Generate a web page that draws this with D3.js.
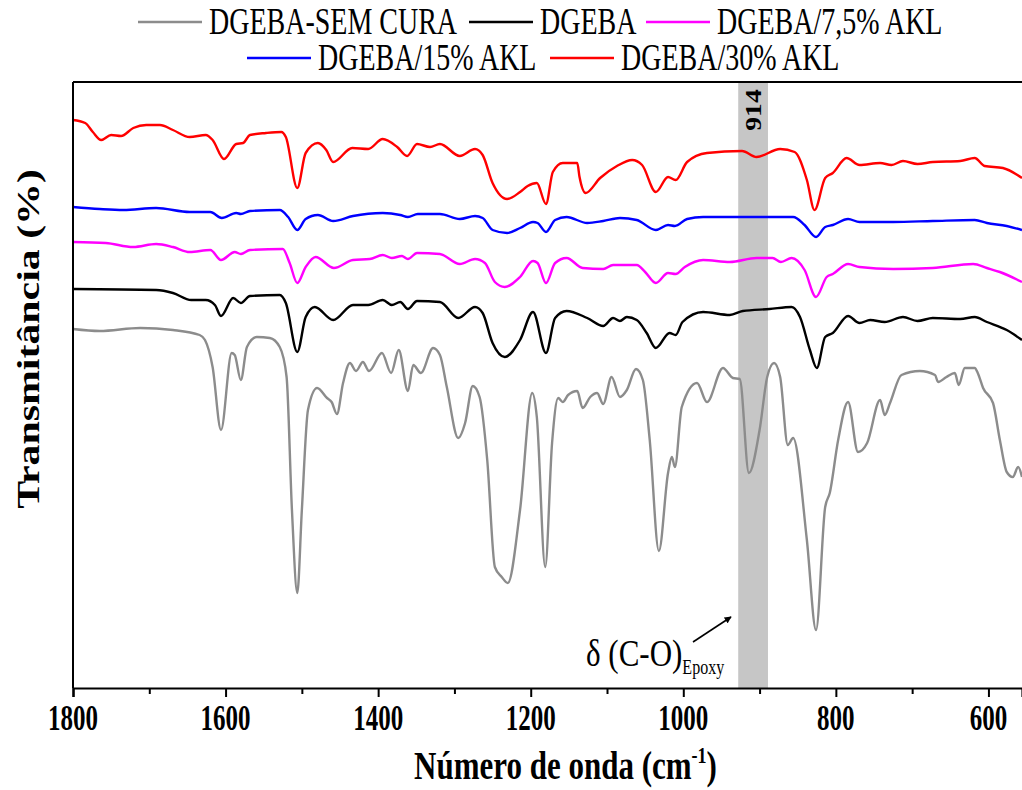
<!DOCTYPE html>
<html>
<head>
<meta charset="utf-8">
<script src="https://cdn.jsdelivr.net/npm/d3@7"></script>
<style>
  html, body { margin: 0; padding: 0; background: #fff; }
  svg { display: block; }
  text { font-family: "Liberation Serif", "Times New Roman", serif; fill: #000; }
</style>
</head>
<body>
<svg id="chart" width="1022" height="790"></svg>
<script>
// FTIR spectra (wavenumber in cm-1, relative transmittance, curves stacked with offsets)
const seriesNames = ["DGEBA-SEM CURA", "DGEBA", "DGEBA/7,5% AKL", "DGEBA/15% AKL", "DGEBA/30% AKL"];
const seriesColors = ["#8c8c8c", "#000000", "#ff00ff", "#0000ff", "#ff0000"];

const semCuraWn = [1800,1765,1712,1669,1634,1627,1617,1606,1592,1588,1580,1572,1559,1542,1529,1520,1513,1506,1500,1492,1480,1467,1461,1454,1446,1437,1429,1420,1412,1395,1383,1373,1361,1354,1344,1328,1319,1310,1295,1286,1276,1267,1257,1247,1238,1230,1214,1198,1192,1181,1172,1164,1158,1151,1139,1132,1122,1113,1105,1094,1083,1074,1062,1053,1044,1032,1020,1015,1011,1002,982,969,948,935,926,914,900,890,881,873,863,856,838,826,814,808,797,784,771,759,742,736,729,714,690,670,666,655,644,639,631,618,614,607,594,585,576,568,561,556];
const semCuraT = [35.9,35.7,36.0,35.8,35.3,34.8,32.1,25.8,33.5,33.3,30.8,34.1,35.1,35.0,34.1,31.1,17.8,9.5,17.8,27.8,30.0,29.0,28.6,27.4,30.5,32.5,31.7,32.6,31.7,33.5,31.5,33.8,29.7,32.3,31.5,34.0,33.3,30.1,25.0,26.5,30.2,29.1,22.8,12.1,11.1,10.5,17.8,29.5,27.1,12.1,24.5,29.0,28.6,29.3,29.7,28.0,29.1,29.5,28.4,31.1,29.1,29.8,31.9,30.8,24.8,13.7,21.5,23.1,22.1,28.1,30.5,28.6,32.0,31.0,30.9,21.5,25.8,31.1,32.5,31.1,24.3,25.0,14.8,5.8,18.1,19.5,24.8,28.6,23.6,24.5,28.8,27.3,28.5,31.3,31.7,31.3,30.6,31.1,31.5,30.3,32.0,32.0,31.5,30.0,28.5,24.8,21.6,21.1,22.1,21.1];

const dgebaWn = [1800,1691,1669,1645,1626,1614,1606,1590,1580,1568,1529,1521,1506,1495,1483,1459,1433,1413,1394,1382,1371,1361,1349,1319,1295,1273,1263,1250,1234,1214,1197,1180,1168,1153,1126,1105,1092,1083,1074,1061,1048,1036,1018,1010,1001,974,939,922,887,858,847,834,825,814,804,784,769,755,736,712,693,673,637,618,602,576,556];
const dgebaT = [39.9,39.8,39.5,38.8,38.8,38.3,37.2,39.0,38.5,39.2,39.3,38.5,33.6,37.1,38.1,36.8,38.3,38.3,38.8,38.3,38.6,37.9,38.7,38.6,37.0,38.1,37.5,34.5,33.1,34.8,37.6,33.5,37.0,37.7,37.0,36.2,37.0,36.7,37.1,36.8,35.5,34.0,35.5,35.3,36.6,37.6,37.3,37.7,37.9,38.1,37.1,33.8,32.0,35.1,35.5,37.2,36.5,36.8,36.6,37.1,36.7,37.0,36.9,37.1,36.6,35.8,34.8];

const akl75Wn = [1800,1757,1721,1691,1669,1647,1620,1606,1588,1580,1568,1525,1516,1506,1495,1482,1458,1433,1411,1394,1382,1369,1361,1349,1319,1293,1273,1260,1247,1234,1214,1197,1191,1180,1168,1153,1132,1105,1092,1061,1050,1036,1020,1010,998,974,939,904,883,872,858,841,826,812,804,784,769,725,673,620,602,585,556];
const akl75T = [44.6,44.5,44.1,44.4,44.1,43.6,43.8,42.8,43.6,43.4,43.8,43.9,42.5,40.5,42.1,43.1,42.0,42.8,42.9,43.3,43.0,43.2,42.9,43.5,43.4,42.4,42.9,42.5,40.6,40.1,41.1,42.7,42.5,40.5,42.5,43.0,42.0,41.9,42.3,42.3,41.6,40.5,41.5,41.4,42.1,42.8,42.6,43.0,43.0,42.6,43.0,41.8,39.1,41.1,41.4,42.4,42.1,41.9,42.0,42.4,42.0,41.6,40.6];

const akl15Wn = [1800,1765,1734,1691,1647,1620,1605,1586,1580,1568,1529,1518,1506,1495,1479,1459,1433,1394,1371,1361,1348,1319,1293,1273,1263,1250,1231,1214,1197,1191,1180,1168,1153,1126,1105,1083,1061,1036,1020,1011,995,974,930,887,856,841,826,814,804,784,769,725,673,618,602,576,556];
const akl15T = [48.1,47.9,47.8,48.0,47.6,47.6,47.0,47.5,47.4,47.7,47.8,47.1,45.8,46.9,47.3,46.7,47.2,47.5,47.3,47.1,47.4,47.4,46.9,47.2,47.0,45.8,45.5,46.0,46.6,46.5,45.6,46.8,47.1,46.5,46.7,47.0,46.8,45.8,46.3,46.2,46.9,47.1,47.1,47.1,47.1,46.3,45.1,46.1,46.3,46.9,46.6,46.6,46.7,46.8,46.5,46.2,45.8];

const akl30Wn = [1800,1784,1774,1763,1750,1737,1721,1704,1686,1669,1647,1626,1617,1602,1586,1577,1568,1547,1527,1521,1506,1495,1479,1468,1459,1434,1413,1394,1375,1362,1349,1332,1319,1293,1273,1263,1250,1231,1214,1204,1192,1180,1171,1158,1139,1136,1128,1109,1087,1067,1054,1036,1020,1010,995,969,923,904,873,854,838,828,814,804,786,769,742,727,712,693,673,637,618,605,581,556];
const akl30T = [56.8,56.5,55.6,54.8,55.3,55.2,56.0,56.3,56.3,55.8,55.1,55.3,54.8,52.9,54.4,54.5,55.3,55.5,55.6,55.1,50.0,53.5,54.5,53.8,52.6,54.0,53.9,54.9,54.1,53.2,54.4,54.1,54.4,53.2,53.9,53.3,50.5,48.9,49.6,50.2,50.5,48.4,51.6,52.5,52.5,51.1,49.5,51.0,52.2,52.8,52.3,49.6,51.1,50.8,52.6,53.5,53.7,53.1,53.9,53.6,50.8,47.8,51.0,51.5,53.0,52.3,52.5,52.3,52.7,52.4,52.6,52.7,53.0,52.2,52.0,51.0];

const xTicks = [1800, 1600, 1400, 1200, 1000, 800, 600];
const xMinorTicks = [1700, 1500, 1300, 1100, 900, 700];
const bandFrom = 928, bandTo = 889, bandLabel = "914";

const svg = d3.select("#chart");
const plotLeft = 73, plotRight = 1022, plotTop = 82, plotBottom = 688;

const x = d3.scaleLinear().domain([1800, 556]).range([plotLeft, plotRight]);
const y = d3.scaleLinear().domain([0, 60.6]).range([plotBottom, plotTop]);

// highlighted epoxy band
svg.append("rect")
  .attr("x", x(bandFrom)).attr("y", plotTop)
  .attr("width", x(bandTo) - x(bandFrom)).attr("height", plotBottom - plotTop)
  .attr("fill", "#c6c6c6");

svg.append("text")
  .attr("transform", `translate(${x((bandFrom + bandTo) / 2) + 8},${plotTop + 28}) scale(1,1.2) rotate(-90)`)
  .attr("text-anchor", "middle")
  .attr("font-weight", "bold")
  .attr("font-size", 23)
  .text(bandLabel);

// spectra
const seriesData = [
  [semCuraWn, semCuraT],
  [dgebaWn, dgebaT],
  [akl75Wn, akl75T],
  [akl15Wn, akl15T],
  [akl30Wn, akl30T]
];
const line = d3.line()
  .x(d => x(d[0]))
  .y(d => y(d[1]))
  .curve(d3.curveMonotoneX);

seriesData.forEach(([wn, t], i) => {
  svg.append("path")
    .datum(wn.map((w, j) => [w, t[j]]))
    .attr("fill", "none")
    .attr("stroke", seriesColors[i])
    .attr("stroke-width", 2.4)
    .attr("stroke-linejoin", "round")
    .attr("d", line);
});

// frame
svg.append("line").attr("x1", plotLeft).attr("x2", plotRight).attr("y1", plotTop).attr("y2", plotTop)
  .attr("stroke", "#000").attr("stroke-width", 2);
svg.append("line").attr("x1", plotLeft).attr("x2", plotLeft).attr("y1", plotTop).attr("y2", plotBottom)
  .attr("stroke", "#000").attr("stroke-width", 2);

// bottom axis
const axisG = svg.append("g").attr("transform", `translate(0,${plotBottom})`);
axisG.call(d3.axisBottom(x).tickValues(xTicks).tickSize(9).tickFormat(""));
axisG.select(".domain").attr("stroke-width", 2.2);
axisG.selectAll(".tick line").attr("stroke-width", 2);
const minorG = svg.append("g").attr("transform", `translate(0,${plotBottom})`);
minorG.call(d3.axisBottom(x).tickValues(xMinorTicks).tickSize(6).tickFormat(""));
minorG.select(".domain").remove();
minorG.selectAll(".tick line").attr("stroke-width", 2);

svg.append("g").selectAll("text")
  .data(xTicks)
  .join("text")
  .attr("transform", d => `translate(${x(d)},${plotBottom + 42}) scale(1,1.4)`)
  .attr("text-anchor", "middle")
  .attr("font-weight", "bold")
  .attr("font-size", 25)
  .text(d => d);

// axis titles
const xTitle = svg.append("text")
  .attr("transform", `translate(${(plotLeft + plotRight) / 2 + 18},779) scale(1,1.27)`)
  .attr("text-anchor", "middle")
  .attr("font-weight", "bold")
  .attr("font-size", 31);
xTitle.append("tspan").text("Número de onda (cm");
xTitle.append("tspan").attr("font-size", 18).attr("dy", -13).text("-1");
xTitle.append("tspan").attr("dy", 13).text(")");

svg.append("text")
  .attr("transform", `translate(39,339) scale(1,1.35) rotate(-90)`)
  .attr("text-anchor", "middle")
  .attr("font-weight", "bold")
  .attr("font-size", 31)
  .text("Transmitância (%)");

// annotation for the epoxy C-O band
const ann = svg.append("text")
  .attr("transform", `translate(586,666) scale(1,1.25)`)
  .attr("font-size", 31);
ann.append("tspan").text("δ (C-O)");
ann.append("tspan").attr("font-size", 16).attr("dy", 6).text("Epoxy");

svg.append("defs").append("marker")
  .attr("id", "arrowHead")
  .attr("viewBox", "0 0 10 10")
  .attr("refX", 9).attr("refY", 5)
  .attr("markerWidth", 7).attr("markerHeight", 7)
  .attr("markerUnits", "userSpaceOnUse")
  .attr("orient", "auto")
  .append("path").attr("d", "M0,0 L10,5 L0,10 Z").attr("fill", "#000");
svg.append("line")
  .attr("x1", 693).attr("y1", 642).attr("x2", 731).attr("y2", 617)
  .attr("stroke", "#000").attr("stroke-width", 1.6)
  .attr("marker-end", "url(#arrowHead)");

// legend
const legendRows = [
  { y: 22, items: [{ i: 0, x: 138 }, { i: 1, x: 469 }, { i: 2, x: 646 }] },
  { y: 58, items: [{ i: 3, x: 247 }, { i: 4, x: 550 }] }
];
legendRows.forEach(row => {
  row.items.forEach(it => {
    svg.append("line")
      .attr("x1", it.x).attr("x2", it.x + 64)
      .attr("y1", row.y).attr("y2", row.y)
      .attr("stroke", seriesColors[it.i]).attr("stroke-width", 2.4);
    svg.append("text")
      .attr("transform", `translate(${it.x + 71},${row.y + 12}) scale(1,1.35)`)
      .attr("font-size", 28)
      .text(seriesNames[it.i]);
  });
});
</script>
</body>
</html>
